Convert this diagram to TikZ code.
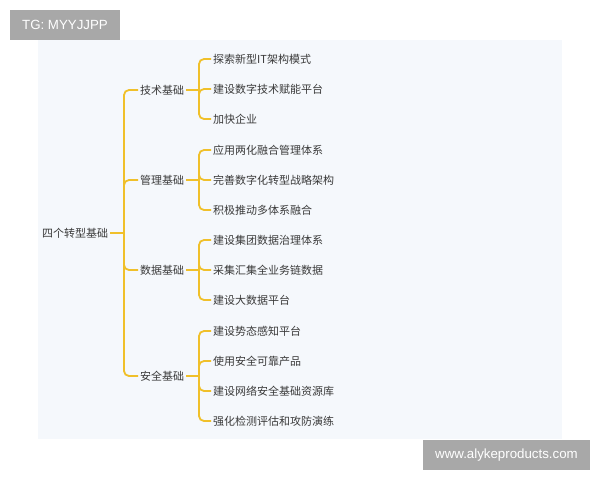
\documentclass[tikz,border=0pt]{standalone}
\usepackage{fontspec}
\newfontfamily\cjk{Noto Sans CJK SC}
\newfontfamily\wmfont{Liberation Sans}
\definecolor{branch}{HTML}{F0C02A}
\definecolor{panel}{HTML}{F5F8FC}
\definecolor{label}{HTML}{3A3A3A}
\definecolor{mark}{HTML}{A8A8A8}

\begin{document}
\begin{tikzpicture}[
    x=1pt, y=-1pt,
    node/.style={%
      anchor=west,
      inner sep=2pt,
      text=label,
      font=\cjk\fontsize{11}{13}\selectfont,
    },
    link/.style={%
      draw=branch,
      line width=1.8pt,
      rounded corners=5pt,
    },
    stamp/.style={%
      fill=mark,
      text=white,
      font=\wmfont\fontsize{13.3}{15}\selectfont,
      inner sep=0pt,
    },
  ]
    \useasboundingbox (0,0) rectangle (600,480);
    \fill [panel] (38,40) rectangle (562,439);

    \node [node] (R) at (40,233) {四个转型基础};
    \node [node] (T) at (138,90) {技术基础};
    \node [node] (M) at (138,180) {管理基础};
    \node [node] (D) at (138,270) {数据基础};
    \node [node] (S) at (138,376) {安全基础};

    \node [node] (T1) at (211,59) {探索新型IT架构模式};
    \node [node] (T2) at (211,89) {建设数字技术赋能平台};
    \node [node] (T3) at (211,119) {加快企业};
    \node [node] (M1) at (211,150) {应用两化融合管理体系};
    \node [node] (M2) at (211,180) {完善数字化转型战略架构};
    \node [node] (M3) at (211,210) {积极推动多体系融合};
    \node [node] (D1) at (211,240) {建设集团数据治理体系};
    \node [node] (D2) at (211,270) {采集汇集全业务链数据};
    \node [node] (D3) at (211,300) {建设大数据平台};
    \node [node] (S1) at (211,331) {建设势态感知平台};
    \node [node] (S2) at (211,361) {使用安全可靠产品};
    \node [node] (S3) at (211,391) {建设网络安全基础资源库};
    \node [node] (S4) at (211,421) {强化检测评估和攻防演练};

    \coordinate (RF) at (124,233);
    \coordinate (TF) at (199,90);
    \coordinate (MF) at (199,180);
    \coordinate (DF) at (199,270);
    \coordinate (SF) at (199,376);

    % trunk
    \draw [link] (R) -- (RF);
    \draw [link] (RF) |- (T);
    \draw [link] (RF) |- (M);
    \draw [link] (RF) |- (D);
    \draw [link] (RF) |- (S);

    % branches
    \draw [link] (T) -- (TF);
    \draw [link] (TF) |- (T1);
    \draw [link] (TF) |- (T2);
    \draw [link] (TF) |- (T3);
    \draw [link] (M) -- (MF);
    \draw [link] (MF) |- (M1);
    \draw [link] (MF) |- (M2);
    \draw [link] (MF) |- (M3);
    \draw [link] (D) -- (DF);
    \draw [link] (DF) |- (D1);
    \draw [link] (DF) |- (D2);
    \draw [link] (DF) |- (D3);
    \draw [link] (S) -- (SF);
    \draw [link] (SF) |- (S1);
    \draw [link] (SF) |- (S2);
    \draw [link] (SF) |- (S3);
    \draw [link] (SF) |- (S4);

    % watermarks
    \node [stamp, minimum width=110pt, minimum height=30pt] (W1) at (65,25) {TG: MYYJJPP};
    \node [stamp, minimum width=167pt, minimum height=30pt] (W2) at (506.5,455) {www.alykeproducts.com};
\end{tikzpicture}
\end{document}
